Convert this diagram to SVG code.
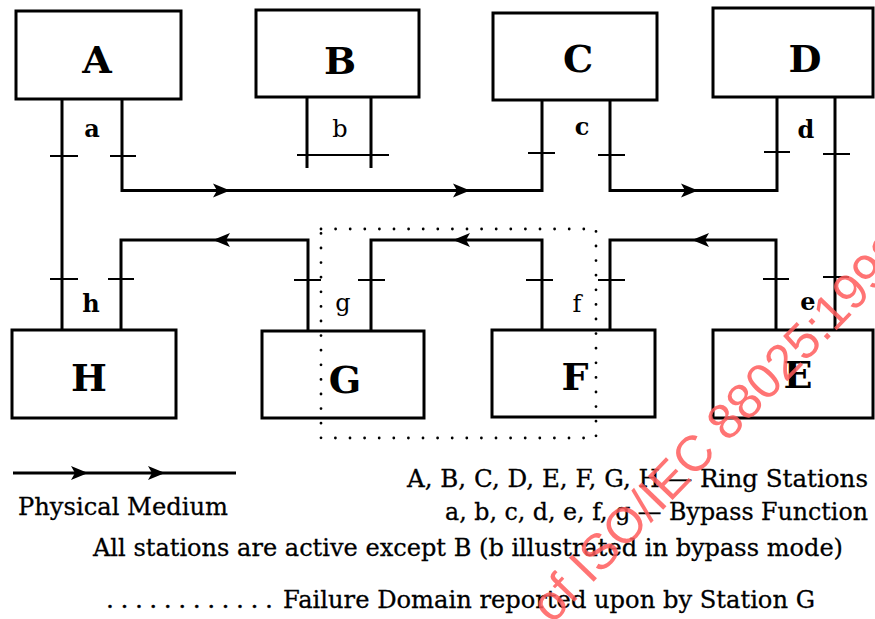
<svg xmlns="http://www.w3.org/2000/svg" width="875" height="619" viewBox="0 0 875 619">
<style>
.box{fill:#fff;stroke:#000;stroke-width:3}
.lbl{font-family:"DejaVu Serif","Liberation Serif",serif;font-weight:bold;font-size:38px;text-anchor:middle;fill:#000}
.sm{font-family:"DejaVu Serif","Liberation Serif",serif;font-size:24px;text-anchor:middle;fill:#000}
.b{font-weight:bold}
.ln{fill:none;stroke:#000;stroke-width:3}
.tk{fill:none;stroke:#000;stroke-width:1.8}
.txt{font-family:"DejaVu Serif","Liberation Serif",serif;font-size:25px;fill:#000;stroke:#000;stroke-width:0.3}
.dot{fill:none;stroke:#000;stroke-width:2.8;stroke-linecap:round;stroke-dasharray:0 14.6}
.wm{font-family:"Liberation Sans",Arial,sans-serif;font-size:50px;fill:#ff5c5c;opacity:.85}
</style>
<defs><path id="ah" d="M0,0 L-17,-7 L-13,0 L-17,7 Z" fill="#000"/></defs>
<rect width="875" height="619" fill="#fff"/>
<g id="connectors">
<path class="ln" d="M122,99 V190.5 H542 V100"/>
<path class="ln" d="M610,100 V190.5 H777 V97"/>
<path class="ln" d="M835,97 V330"/>
<path class="ln" d="M776,330 V240 H610 V330"/>
<path class="ln" d="M542,330 V240 H371 V331"/>
<path class="ln" d="M308,331 V240 H121 V330"/>
<path class="ln" d="M62,330 V99"/>
<path class="tk" d="M50,156 H78 M110,156 H136 M528,153 H555 M598,155 H625 M764,152 H790 M823,154 H850 M50,279 H78 M108,279 H134 M294,280 H321 M358,280 H385 M526,280 H553 M598,280 H625 M763,279 H789 M823,277 H849"/>
<use href="#ah" transform="translate(230,190.5)"/>
<use href="#ah" transform="translate(470,190.5)"/>
<use href="#ah" transform="translate(698,190.5)"/>
<use href="#ah" transform="translate(213,240) rotate(180)"/>
<use href="#ah" transform="translate(453,240) rotate(180)"/>
<use href="#ah" transform="translate(692,240) rotate(180)"/>
</g>
<g id="A"><rect class="box" x="16" y="11" width="165" height="88"/><text class="lbl" x="97" y="73">A</text><text class="sm b" x="92" y="137">a</text></g>
<g id="B"><rect class="box" x="256" y="10" width="163" height="87"/><text class="lbl" x="340" y="74">B</text><path class="ln" d="M307,97 V168 M371,97 V168"/><path class="tk" d="M297,155 H389"/><text class="sm" x="340" y="137">b</text></g>
<g id="C"><rect class="box" x="493" y="13" width="164" height="87"/><text class="lbl" x="578" y="72">C</text><text class="sm b" x="582" y="135">c</text></g>
<g id="D"><rect class="box" x="713" y="8" width="160" height="89"/><text class="lbl" x="805" y="72">D</text><text class="sm b" x="806" y="138">d</text></g>
<g id="H"><rect class="box" x="12" y="330" width="164" height="88"/><text class="lbl" x="89" y="391">H</text><text class="sm b" x="91" y="312">h</text></g>
<g id="G"><rect class="box" x="262" y="331" width="162" height="87"/><text class="lbl" x="345" y="393">G</text><text class="sm" x="343" y="311">g</text></g>
<g id="F"><rect class="box" x="492" y="330" width="163" height="87"/><text class="lbl" x="575" y="390">F</text><text class="sm" x="577" y="312">f</text></g>
<g id="E"><rect class="box" x="713" y="330" width="160" height="88"/><text class="lbl" x="798" y="388">E</text><text class="sm b" x="808" y="310">e</text></g>
<g id="failure-domain"><rect class="dot" x="321" y="229" width="275" height="209"/></g>
<g id="legend">
<path class="ln" d="M13,473 H236"/>
<use href="#ah" transform="translate(88,473)"/>
<use href="#ah" transform="translate(165,473)"/>
<text class="txt" x="18" y="515" textLength="210" lengthAdjust="spacingAndGlyphs">Physical Medium</text>
<text class="txt" x="407" y="487" textLength="461" lengthAdjust="spacingAndGlyphs">A, B, C, D, E, F, G, H — Ring Stations</text>
<text class="txt" x="445" y="520" textLength="423" lengthAdjust="spacingAndGlyphs">a, b, c, d, e, f, g — Bypass Function</text>
<text class="txt" x="93" y="556" textLength="750" lengthAdjust="spacingAndGlyphs">All stations are active except B (b illustrated in bypass mode)</text>
<text class="txt" x="106" y="608" letter-spacing="6.5">............</text>
<text class="txt" x="283" y="608" textLength="532" lengthAdjust="spacingAndGlyphs">Failure Domain reported upon by Station G</text>
</g>
<text class="wm" transform="translate(552,625) rotate(-46)">of ISO/IEC 88025:1998</text>
</svg>
